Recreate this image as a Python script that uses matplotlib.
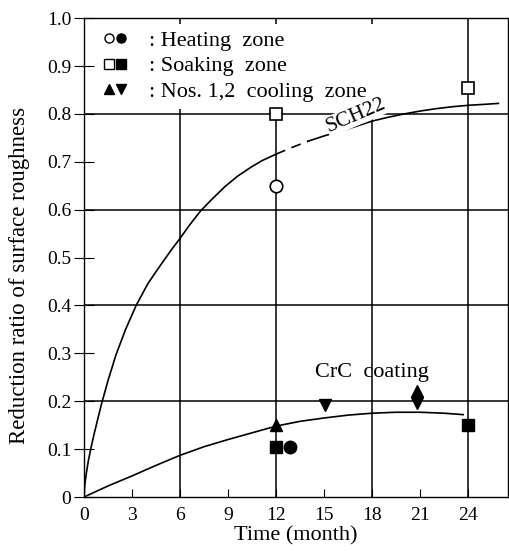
import matplotlib.pyplot as plt
from matplotlib.lines import Line2D
from matplotlib.legend_handler import HandlerTuple

plt.rcParams['font.family'] = ['Liberation Serif', 'DejaVu Serif']

# Curves
sch22_x = [0, 0.05, 0.15, 0.27, 0.42, 0.65, 0.87, 1.1, 1.5, 2.0, 2.6, 3.26, 4.0, 4.8, 5.5,
           6.0, 6.6, 7.3, 8.0, 8.8, 9.6, 10.4, 11.1, 12.0, 13.0, 14.0, 15.0, 16.0, 17.0,
           18.0, 19.0, 20.0, 21.0, 22.0, 23.0, 24.0, 25.0, 25.9]
sch22_y = [0, 0.025, 0.05, 0.075, 0.1, 0.134, 0.164, 0.195, 0.243, 0.297, 0.35, 0.4, 0.446,
           0.485, 0.518, 0.54, 0.568, 0.598, 0.622, 0.648, 0.67, 0.688, 0.702, 0.716, 0.73,
           0.743, 0.754, 0.764, 0.774, 0.785, 0.793, 0.8, 0.806, 0.811, 0.815, 0.818, 0.82, 0.822]

crc_x = [0, 1.5, 3, 4.5, 6, 7.5, 9, 10.5, 12, 13.5, 15, 16.5, 18, 19.5, 21, 22.5, 23.7]
crc_y = [0, 0.023, 0.044, 0.066, 0.087, 0.105, 0.12, 0.134, 0.148, 0.158, 0.165, 0.171,
         0.175, 0.177, 0.177, 0.175, 0.172]

# Measured points
heat_open_x, heat_open_y = [12], [0.65]
heat_fill_x, heat_fill_y = [12.9], [0.105]
soak_open_x, soak_open_y = [12, 24], [0.80, 0.855]
soak_fill_x, soak_fill_y = [12, 24], [0.105, 0.15]
cool_up_x, cool_up_y = [12, 20.8], [0.15, 0.221]
cool_down_x, cool_down_y = [15.05, 20.8], [0.192, 0.196]

x_ticks = [0, 3, 6, 9, 12, 15, 18, 21, 24]
y_ticks = [0, 0.1, 0.2, 0.3, 0.4, 0.5, 0.6, 0.7, 0.8, 0.9, 1.0]
y_labels = ['0', '0.1', '0.2', '0.3', '0.4', '0.5', '0.6', '0.7', '0.8', '0.9', '1.0']

fig = plt.figure(figsize=(5.09, 5.51), dpi=100)
ax = fig.add_axes([0.165, 0.098, 0.833, 0.869])

# grid lines
for gy in [0.2, 0.4, 0.6, 0.8]:
    ax.axhline(gy, color='black', lw=1.1, zorder=1)
for gx in [6, 12, 18, 24]:
    ax.axvline(gx, color='black', lw=1.1, zorder=1)

# SCH22 curve: solid, short dashed stretch after 12 months, then solid
i12 = sch22_x.index(12.0)
i14 = sch22_x.index(14.0)
ax.plot(sch22_x[:i12 + 1], sch22_y[:i12 + 1], color='black', lw=1.2, zorder=2)
ax.plot(sch22_x[i12:i14 + 1], sch22_y[i12:i14 + 1], color='black', lw=1.2,
        dashes=(6, 4), zorder=2)
ax.plot(sch22_x[i14:], sch22_y[i14:], color='black', lw=1.2, zorder=2)
ax.plot(crc_x, crc_y, color='black', lw=1.2, zorder=2)

ms = 9
ax.plot(heat_open_x, heat_open_y, 'o', ms=ms, mfc='white', mec='black', mew=1.2, zorder=6)
ax.plot(heat_fill_x, heat_fill_y, 'o', ms=ms, color='black', zorder=6)
ax.plot(soak_open_x, soak_open_y, 's', ms=ms, mfc='white', mec='black', mew=1.2, zorder=6)
ax.plot(soak_fill_x, soak_fill_y, 's', ms=ms, color='black', zorder=6)
ax.plot(cool_up_x, cool_up_y, '^', ms=8, color='black', zorder=6)
ax.plot(cool_down_x, cool_down_y, 'v', ms=8, color='black', zorder=6)

ax.text(17.0, 0.797, 'SCH22', fontsize=15.5, rotation=23, ha='center', va='center',
        bbox=dict(facecolor='white', edgecolor='none', pad=0.5), zorder=6)
ax.text(18.0, 0.259, 'CrC  coating', fontsize=16, ha='center', va='center', zorder=6)

# legend
lm = 6.5
h_heat = (Line2D([], [], marker='o', ls='', ms=lm, mfc='white', mec='black'),
          Line2D([], [], marker='o', ls='', ms=lm, color='black'))
h_soak = (Line2D([], [], marker='s', ls='', ms=lm, mfc='white', mec='black'),
          Line2D([], [], marker='s', ls='', ms=lm, color='black'))
h_cool = (Line2D([], [], marker='^', ls='', ms=lm, color='black'),
          Line2D([], [], marker='v', ls='', ms=lm, color='black'))
leg = ax.legend([h_heat, h_soak, h_cool],
                [': Heating  zone', ': Soaking  zone', ': Nos. 1,2  cooling  zone'],
                handler_map={tuple: HandlerTuple(ndivide=None, pad=0.0)},
                loc='upper left', bbox_to_anchor=(0.016, 1.0), borderaxespad=0.25,
                fontsize=16, handlelength=1.08, handletextpad=1.0, labelspacing=0.22,
                frameon=True, fancybox=False, framealpha=1.0, borderpad=0.3)
leg.get_frame().set_facecolor('white')
leg.get_frame().set_edgecolor('none')
leg.set_zorder(3)

ax.set_xlim(0, 26.5)
ax.set_ylim(0, 1.0)
ax.set_xticks(x_ticks)
ax.set_yticks(y_ticks)
ax.set_yticklabels(y_labels)
ax.tick_params(axis='x', direction='in', length=6, labelsize=14, pad=7)
ax.tick_params(axis='y', direction='inout', length=14, labelsize=14, pad=2)
ax.set_xlabel('Time (month)', fontsize=16, labelpad=2)
ax.set_ylabel('Reduction ratio of surface roughness', fontsize=16.5)
ax.yaxis.set_label_coords(-0.128, 0.463)
for sp in ax.spines.values():
    sp.set_linewidth(1.0)

fig.savefig('out.png', dpi=100)
